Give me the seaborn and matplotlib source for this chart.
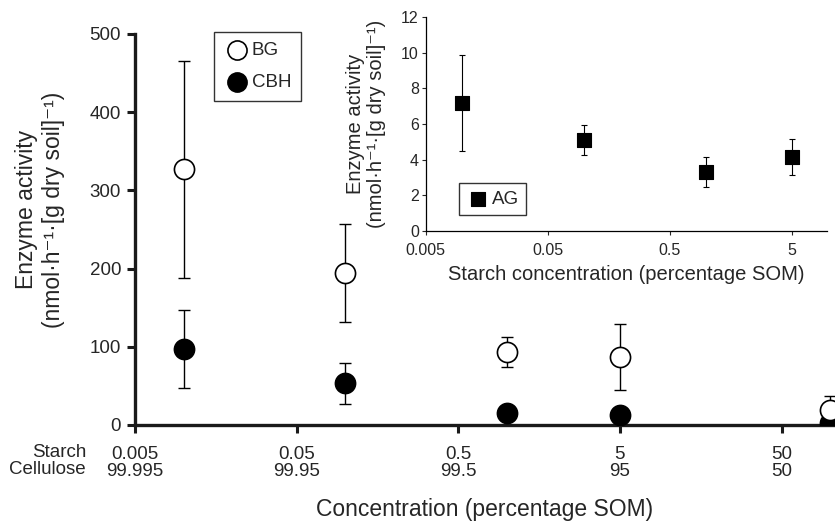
import seaborn as sns
import matplotlib.pyplot as plt
import pandas as pd
from matplotlib.ticker import FixedLocator, NullLocator

# main panel data (starch % of SOM)
starch = [0.01, 0.1, 1, 5, 100]
bg_mean = [327, 194, 93, 87, 19]
bg_err = [139, 63, 19, 42, 18]
cbh_mean = [97, 53, 15, 13, 2]
cbh_err = [50, 26, 4, 4, 2]

main_ticks = [0.005, 0.05, 0.5, 5, 50]
starch_labels = ["0.005", "0.05", "0.5", "5", "50"]
cellulose_labels = ["99.995", "99.95", "99.5", "95", "50"]

# inset data
ag_starch = [0.01, 0.1, 1, 5]
ag_mean = [7.2, 5.1, 3.3, 4.15]
ag_err = [2.7, 0.82, 0.86, 1.02]
inset_ticks = [0.005, 0.05, 0.5, 5]
inset_labels = ["0.005", "0.05", "0.5", "5"]

df = pd.DataFrame({"starch": starch, "BG": bg_mean, "CBH": cbh_mean})
df_ag = pd.DataFrame({"starch": ag_starch, "AG": ag_mean})

sns.set_style("ticks")
plt.rcParams["font.family"] = ["Liberation Sans", "DejaVu Sans"]

ylab = "Enzyme activity\n(nmol\u00b7h\u207b\u00b9\u00b7[g dry soil]\u207b\u00b9)"

fig = plt.figure(figsize=(8.35, 5.22), dpi=100)
ax = fig.add_axes([0.1617, 0.186, 1 - 0.1617, 0.935 - 0.186])

ax.errorbar(starch, bg_mean, yerr=bg_err, fmt="none", ecolor="black",
            elinewidth=1, capsize=4, capthick=1, zorder=2)
ax.errorbar(starch, cbh_mean, yerr=cbh_err, fmt="none", ecolor="black",
            elinewidth=1, capsize=4, capthick=1, zorder=2)
sns.scatterplot(data=df, x="starch", y="CBH", ax=ax, marker="o", s=210,
                color="black", edgecolor="black", linewidth=1.2,
                label="CBH", zorder=3)
sns.scatterplot(data=df, x="starch", y="BG", ax=ax, marker="o", s=210,
                color="white", edgecolor="black", linewidth=1.2,
                label="BG", zorder=4)

ax.set_xscale("log")
ax.set_xlim(0.005, 107)
ax.set_ylim(0, 500)
ax.xaxis.set_major_locator(FixedLocator(main_ticks))
ax.xaxis.set_minor_locator(NullLocator())
ax.set_xticklabels([f"{s}\n{c}" for s, c in zip(starch_labels, cellulose_labels)],
                   linespacing=1.05)
ax.set_yticks([0, 100, 200, 300, 400, 500])
ax.tick_params(axis="both", labelsize=13.5, length=6, width=2.2, color="#1a1a1a")
ax.tick_params(axis="x", pad=9)
ax.tick_params(axis="y", pad=4)
sns.despine(ax=ax)
for sp in ["left", "bottom"]:
    ax.spines[sp].set_linewidth(2.4)
    ax.spines[sp].set_color("#1a1a1a")
ax.set_xlabel("Concentration (percentage SOM)", fontsize=16.5, labelpad=13)
ax.set_ylabel(ylab, fontsize=16.5, linespacing=1.25)
ax.yaxis.set_label_coords(-0.10, 0.55)
ax.text(-0.07, -0.0716, "Starch", transform=ax.transAxes, ha="right", va="center", fontsize=13.5)
ax.text(-0.07, -0.115, "Cellulose", transform=ax.transAxes, ha="right", va="center", fontsize=13.5)

handles, labels = ax.get_legend_handles_labels()
order = [labels.index("BG"), labels.index("CBH")]
leg = ax.legend([handles[i] for i in order], [labels[i] for i in order],
                loc="upper left", bbox_to_anchor=(0.113, 1.005), frameon=True,
                fancybox=False, edgecolor="black", fontsize=13.5, handletextpad=0.15,
                borderpad=0.55, labelspacing=0.75, handlelength=1.3, markerscale=0.95,
                borderaxespad=0)
leg.get_frame().set_linewidth(1)

# inset
ins = fig.add_axes([425.7 / 835, (522 - 230.7) / 522, 401 / 835, 213.4 / 522])
ins.set_facecolor("white")
ins.errorbar(ag_starch, ag_mean, yerr=ag_err, fmt="none", ecolor="black",
             elinewidth=0.8, capsize=2.3, capthick=0.8, zorder=2)
sns.scatterplot(data=df_ag, x="starch", y="AG", ax=ins, marker="s", s=115,
                color="black", edgecolor="black", linewidth=0.8, label="AG", zorder=3)
ins.set_xscale("log")
ins.set_xlim(0.005, 9.7)
ins.set_ylim(0, 12)
ins.xaxis.set_major_locator(FixedLocator(inset_ticks))
ins.xaxis.set_minor_locator(NullLocator())
ins.set_xticklabels(inset_labels)
ins.set_yticks([0, 2, 4, 6, 8, 10, 12])
ins.tick_params(axis="both", labelsize=11.5, length=3, width=0.8)
ins.tick_params(axis="x", pad=6)
ins.tick_params(axis="y", pad=2)
sns.despine(ax=ins)
for sp in ["left", "bottom"]:
    ins.spines[sp].set_linewidth(0.9)
    ins.spines[sp].set_color("black")
ins.set_xlabel("Starch concentration (percentage SOM)", fontsize=14.5, labelpad=5)
ins.set_ylabel(ylab, fontsize=14.5, linespacing=1.1)
ins.yaxis.set_label_coords(-0.10, 0.50)
leg2 = ins.legend(loc="upper left", bbox_to_anchor=(0.083, 0.222), frameon=True,
                  fancybox=False, edgecolor="black", fontsize=13.5, handletextpad=0.15,
                  borderpad=0.4, handlelength=1.2, borderaxespad=0)
leg2.get_frame().set_linewidth(1)

plt.savefig("out.png", dpi=100)
plt.close()
